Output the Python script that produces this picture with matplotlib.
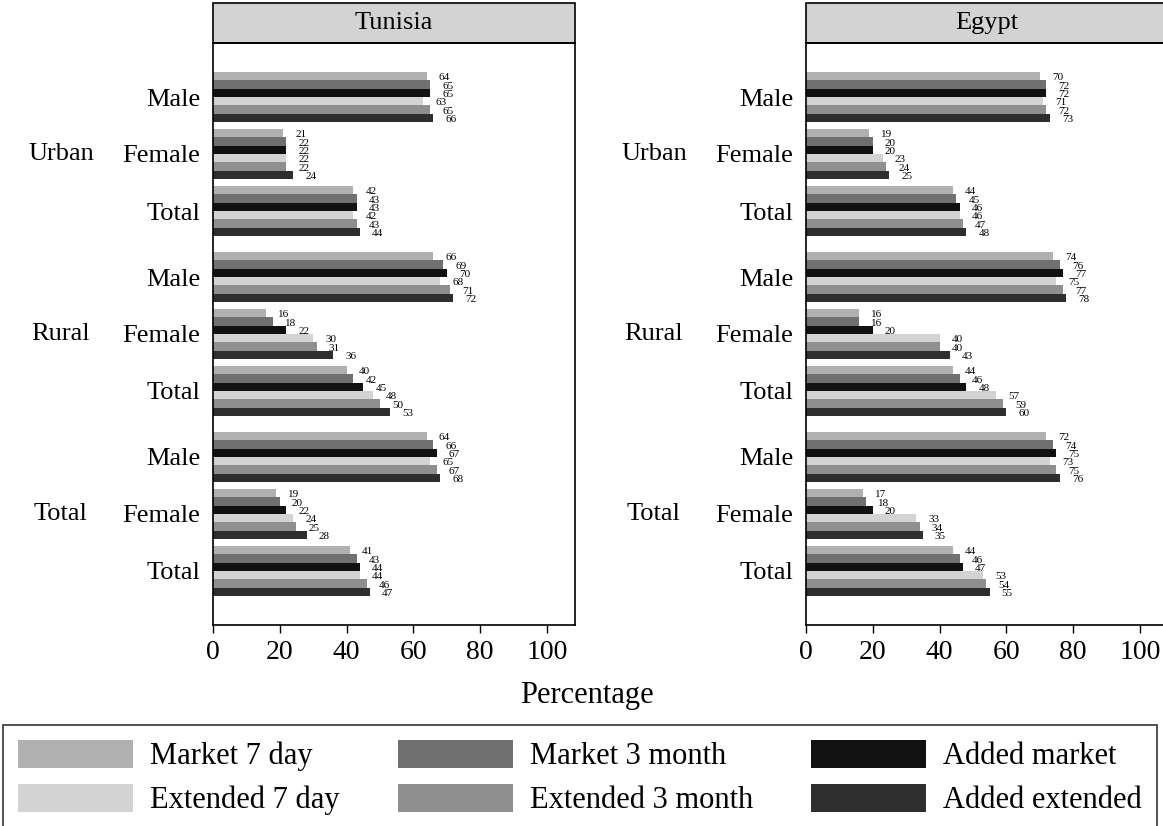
import matplotlib.pyplot as plt
from matplotlib.patches import Rectangle, Patch

plt.rcParams['font.family'] = ['Liberation Serif', 'DejaVu Serif']

# Categories
countries = ['Tunisia', 'Egypt']
areas = ['Urban', 'Rural', 'Total']
sexes = ['Male', 'Female', 'Total']
series = ['Market 7 day', 'Market 3 month', 'Added market',
          'Extended 7 day', 'Extended 3 month', 'Added extended']
colors = ['#b0b0b0', '#707070', '#111111', '#d3d3d3', '#8f8f8f', '#2e2e2e']

# Values per (area, sex) row, one entry per series
tunisia = [
    [64, 65, 65, 63, 65, 66],   # Urban Male
    [21, 22, 22, 22, 22, 24],   # Urban Female
    [42, 43, 43, 42, 43, 44],   # Urban Total
    [66, 69, 70, 68, 71, 72],   # Rural Male
    [16, 18, 22, 30, 31, 36],   # Rural Female
    [40, 42, 45, 48, 50, 53],   # Rural Total
    [64, 66, 67, 65, 67, 68],   # Total Male
    [19, 20, 22, 24, 25, 28],   # Total Female
    [41, 43, 44, 44, 46, 47],   # Total Total
]
egypt = [
    [70, 72, 72, 71, 72, 73],
    [19, 20, 20, 23, 24, 25],
    [44, 45, 46, 46, 47, 48],
    [74, 76, 77, 75, 77, 78],
    [16, 16, 20, 40, 40, 43],
    [44, 46, 48, 57, 59, 60],
    [72, 74, 75, 73, 75, 76],
    [17, 18, 20, 33, 34, 35],
    [44, 46, 47, 53, 54, 55],
]
data = [tunisia, egypt]

# Layout in bar-height units
bar_h = 1.0
sub_gap = 0.84
group_gap = 1.92
margin = 3.48

fig = plt.figure(figsize=(11.63, 8.26), dpi=100)
W, H = 1163, 826
ax_w = 362 / W
ax_b = 1 - 625 / H
ax_h = (625 - 43) / H
lefts = [213 / W, 806 / W]

# Row start positions
starts = []
y = margin
for g in range(len(areas)):
    for s in range(len(sexes)):
        starts.append(y)
        y += 6 * bar_h + sub_gap
    y += group_gap - sub_gap
y_end = y - (group_gap - sub_gap) - sub_gap + margin

for ci, country in enumerate(countries):
    ax = fig.add_axes([lefts[ci], ax_b, ax_w, ax_h])
    rows = data[ci]
    for r, vals in enumerate(rows):
        for k, v in enumerate(vals):
            yc = starts[r] + (k + 0.5) * bar_h
            ax.barh(yc, v, height=bar_h, color=colors[k], linewidth=0)
            ax.text(v + 3.6, yc + 0.2, str(v), fontsize=8,
                    ha='left', va='center')
    centers = [s + 3 * bar_h for s in starts]
    ax.set_yticks(centers)
    ax.set_yticklabels(sexes * len(areas), fontsize=19)
    ax.tick_params(axis='y', length=0, pad=9)
    for g, area in enumerate(areas):
        ax.text(-0.42, centers[g * 3 + 1], area, fontsize=19,
                ha='center', va='center', transform=ax.get_yaxis_transform())
    ax.set_ylim(y_end, 0)
    ax.set_xlim(0, 108.4)
    ax.set_xticks([0, 20, 40, 60, 80, 100])
    ax.tick_params(axis='x', labelsize=20, length=6, width=1, pad=5)
    for sp in ax.spines.values():
        sp.set_linewidth(1.2)
    # Strip header
    strip_h = 40 / (625 - 43)
    ax.add_patch(Rectangle((0, 1), 1, strip_h, transform=ax.transAxes,
                           facecolor='#d3d3d3', edgecolor='black',
                           linewidth=1.2, clip_on=False))
    ax.text(0.5, 1 + strip_h / 2, country, fontsize=19, ha='center',
            va='center', transform=ax.transAxes)

fig.text(587 / W, 1 - 695 / H, 'Percentage', fontsize=22,
         ha='center', va='center')

handles = [Patch(facecolor=c, edgecolor='none') for c in colors]
order = [0, 3, 1, 4, 2, 5]
leg = fig.legend([handles[i] for i in order], [series[i] for i in order],
                 ncol=3, loc='upper left', bbox_to_anchor=(3 / W, 1 - 725 / H),
                 fontsize=22, frameon=True, fancybox=False,
                 handlelength=3.76, handleheight=1.0, handletextpad=0.56,
                 columnspacing=1.9, labelspacing=0.42, borderpad=0.5,
                 borderaxespad=0)
leg.get_frame().set_edgecolor('black')
leg.get_frame().set_linewidth(1.2)

fig.savefig('out.png', dpi=100)
